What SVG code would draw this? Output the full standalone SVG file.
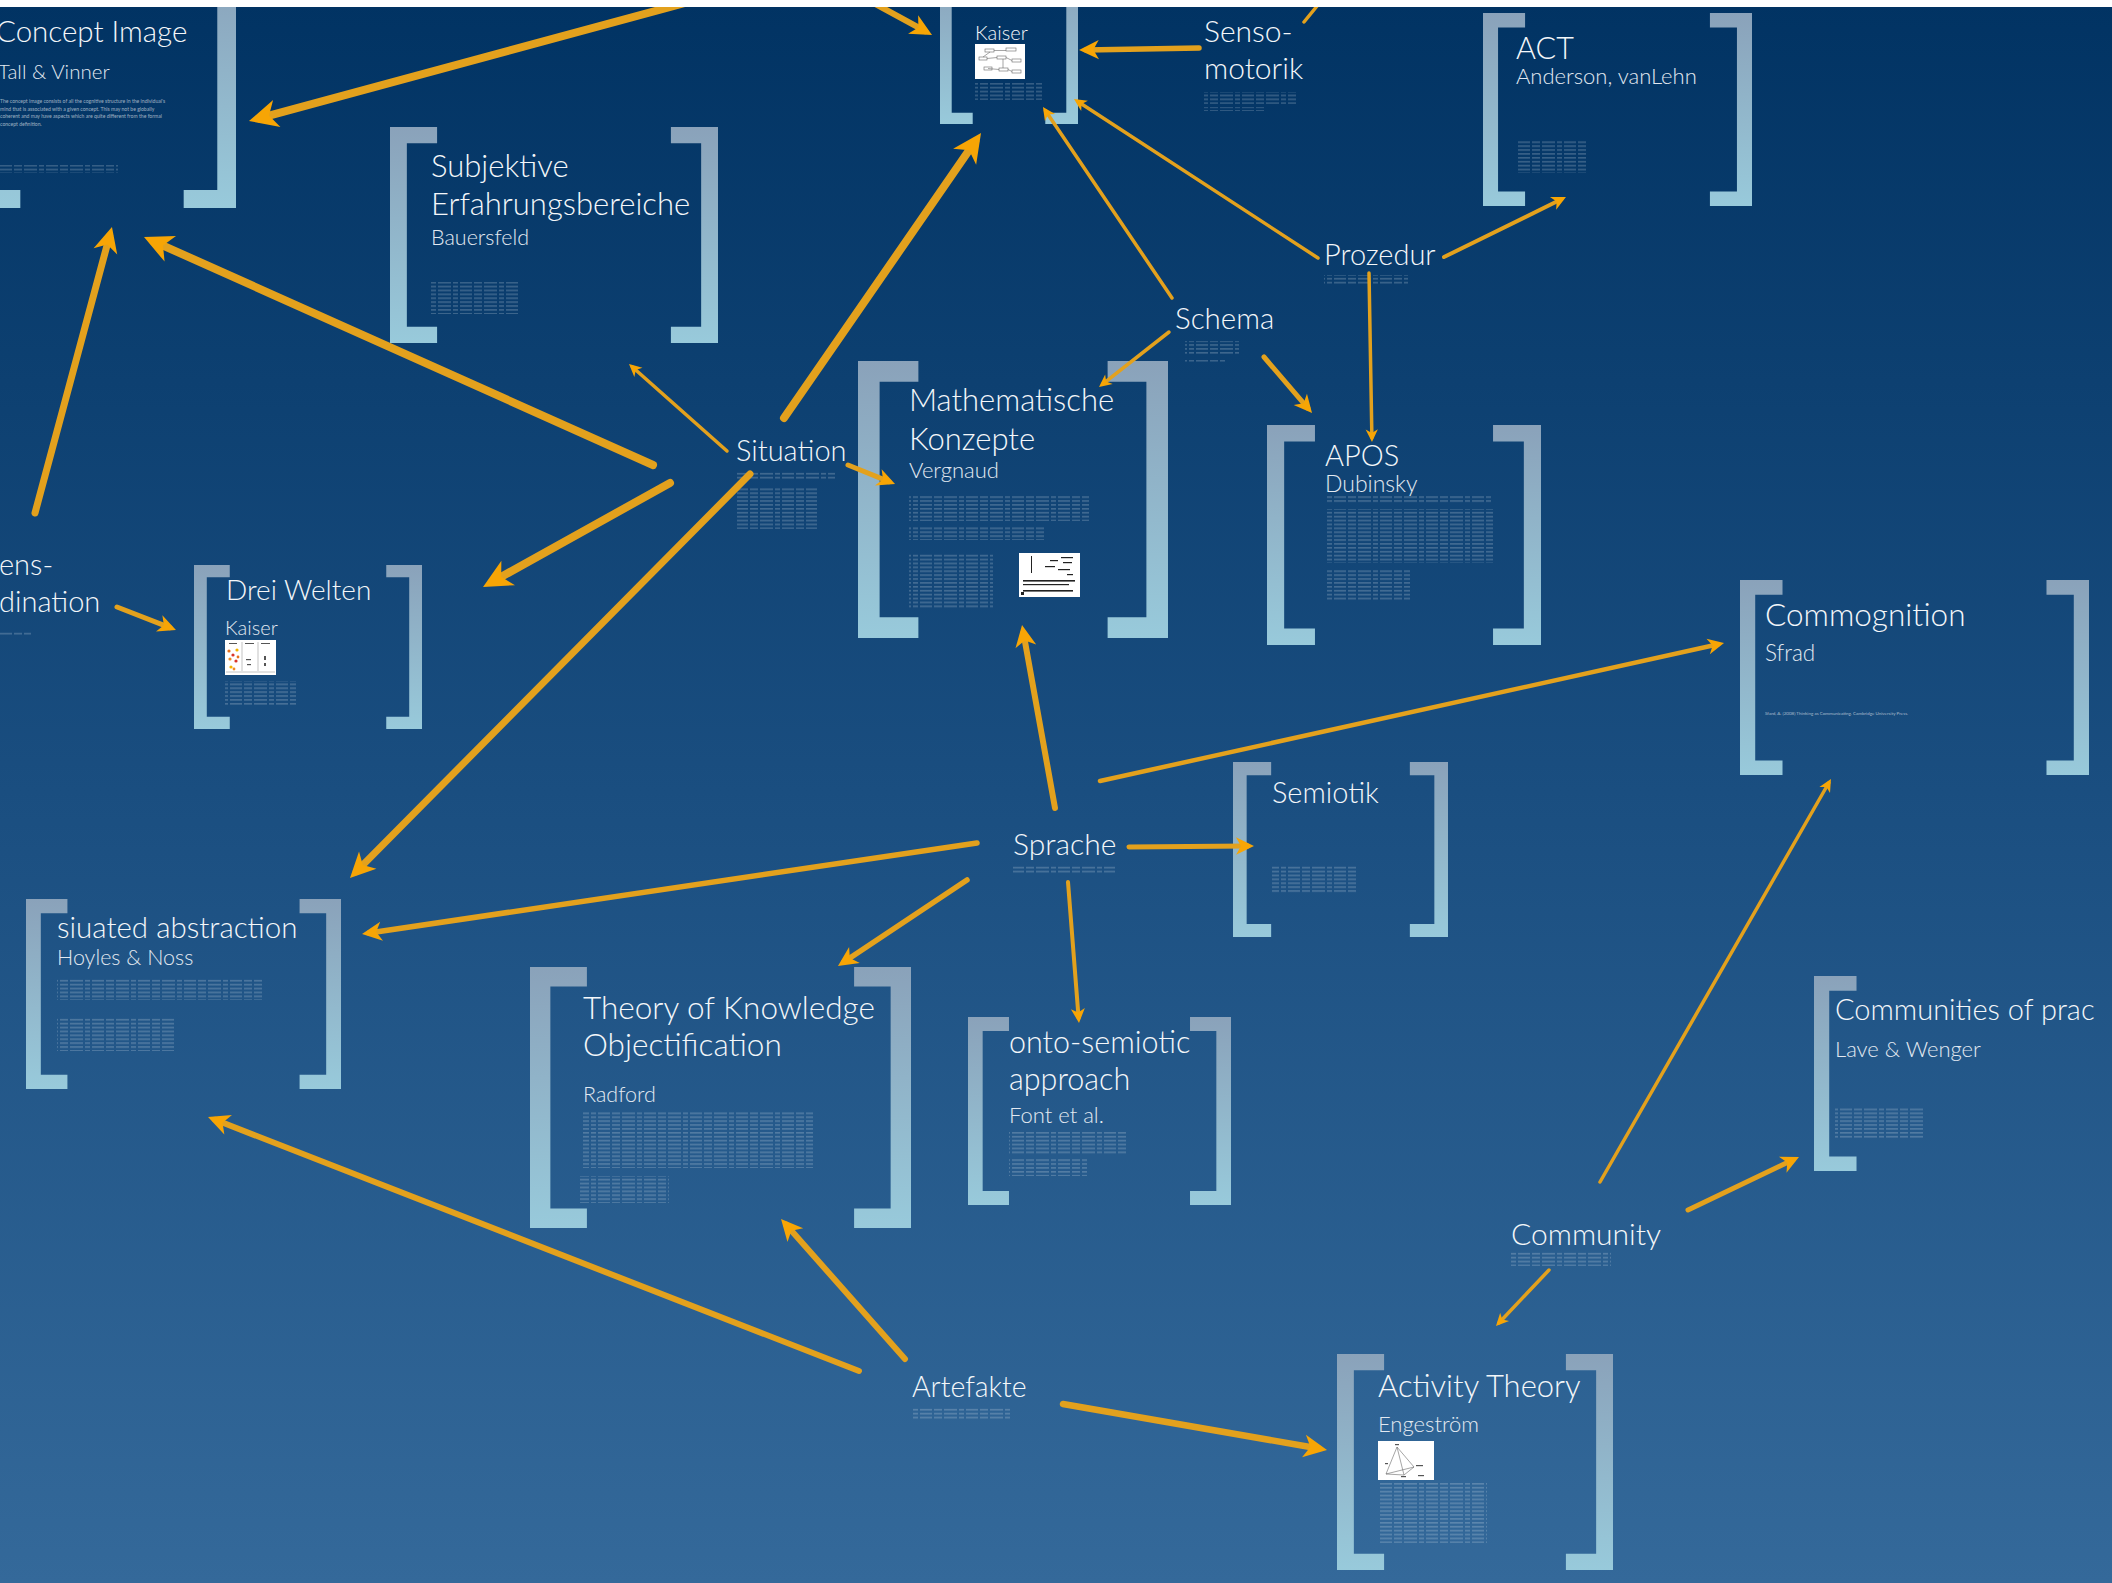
<svg xmlns="http://www.w3.org/2000/svg" xmlns:xlink="http://www.w3.org/1999/xlink" width="2112" height="1583" viewBox="0 0 2112 1583">
  <defs>
    <linearGradient id="sky" x1="0" y1="0" x2="0" y2="1">
      <stop offset="0" stop-color="#013363"/>
      <stop offset="0.5" stop-color="#1a4e80"/>
      <stop offset="1" stop-color="#34699a"/>
    </linearGradient>
    <linearGradient id="brkGrad" x1="0" y1="0" x2="0" y2="1">
      <stop offset="0" stop-color="#8aa2ba"/>
      <stop offset="1" stop-color="#98cadb"/>
    </linearGradient>
    <!-- unit brackets, 100 units tall; placed with translate + scale -->
    <path id="lb" d="M0 0H21.8V7.5H7.8V92.5H21.8V100H0Z"/>
    <path id="rb" d="M0 0H-21.8V7.5H-7.8V92.5H-21.8V100H0Z"/>
    <!-- fine print rendered as faint rows -->
    <pattern id="tl" patternUnits="userSpaceOnUse" width="46" height="3.9">
      <g fill="#ffffff" fill-opacity="0.3">
        <rect x="0" y="1.3" width="12" height="1.1"/>
        <rect x="14" y="1.3" width="8" height="1.1"/>
        <rect x="24" y="1.3" width="13" height="1.1"/>
        <rect x="39" y="1.3" width="5" height="1.1"/>
      </g>
    </pattern>
    <marker id="ah" viewBox="-4 -2 4 4" markerWidth="4" markerHeight="4" refX="-1.3" refY="0" orient="auto" markerUnits="strokeWidth" overflow="visible">
      <path d="M0 0L-3.6 -1.75L-2.6 0L-3.6 1.75Z" fill="#f7a505"/>
    </marker>
    <style>
      .brk { fill: url(#brkGrad); }
      .t { font-family: Lato, "Open Sans", "Liberation Sans", sans-serif; font-weight: 300; fill: #f4f7fa; }
      .s { fill: #e2e9f1; }
      .micro { font-family: Lato, "Liberation Sans", sans-serif; fill: #ffffff; fill-opacity: 0.6; }
      .fine { fill: url(#tl); }
      .con { fill: none; stroke: #e3a11d; stroke-linecap: round; marker-end: url(#ah); }
      .c35 { stroke-width: 3.5; }
      .c4 { stroke-width: 4; }
      .c45 { stroke-width: 4.5; }
      .c5 { stroke-width: 5; }
      .c55 { stroke-width: 5.5; }
      .c6 { stroke-width: 6; }
      .c65 { stroke-width: 6.5; }
      .c7 { stroke-width: 7; }
      .c8 { stroke-width: 8; }
      .thumb { fill: #ffffff; }
      .ink { fill: none; stroke: #6a6a6a; stroke-width: 0.6; }
    </style>
  </defs>

  <rect width="2112" height="1583" fill="url(#sky)"/>

  <!-- Concept Image -->
  <g id="node-concept-image">
    <use href="#lb" class="brk" transform="translate(-32 -32) scale(2.4)"/>
    <use href="#rb" class="brk" transform="translate(236 -32) scale(2.4)"/>
    <text class="t" x="-4" y="42" font-size="29.5">Concept Image</text>
    <text class="t s" x="-2" y="79" font-size="20.5">Tall &amp; Vinner</text>
    <text class="micro" font-size="5.1">
      <tspan x="0" y="103">The concept image consists of all the cognitive structure in the individual's</tspan>
      <tspan x="0" y="110.5">mind that is associated with a given concept. This may not be globally</tspan>
      <tspan x="0" y="118">coherent and may have aspects which are quite different from the formal</tspan>
      <tspan x="0" y="125.5">concept definition.</tspan>
    </text>
    <rect class="fine" x="0" y="165" width="118" height="8"/>
  </g>

  <!-- Kaiser (top) -->
  <g id="node-kaiser-top">
    <use href="#lb" class="brk" transform="translate(940 -26) scale(1.5)"/>
    <use href="#rb" class="brk" transform="translate(1078 -26) scale(1.5)"/>
    <text class="t" x="975" y="40" font-size="20">Kaiser</text>
    <rect class="thumb" x="975" y="44" width="50" height="35"/>
    <g class="ink">
      <rect x="985" y="49" width="9" height="3"/>
      <rect x="1006" y="48" width="10" height="3"/>
      <rect x="979" y="57" width="8" height="3"/>
      <rect x="997" y="56" width="9" height="3"/>
      <rect x="1012" y="59" width="9" height="3"/>
      <rect x="984" y="67" width="8" height="3"/>
      <rect x="999" y="68" width="9" height="3"/>
      <rect x="1012" y="70" width="9" height="3"/>
      <path d="M994 50.5H1006M987 58.5L997 57.5M1006 57.5L1012 60.5M988 68.5L999 69.5M1008 69.5L1012 71.5M990 52L983 57M1003 59L1003 68"/>
    </g>
    <rect class="fine" x="975" y="83" width="67" height="17"/>
  </g>

  <!-- Senso-motorik -->
  <g id="node-sensomotorik">
    <text class="t" x="1204" y="42" font-size="30">Senso-</text>
    <text class="t" x="1204" y="79" font-size="30">motorik</text>
    <rect class="fine" x="1204" y="92" width="92" height="12"/>
    <rect class="fine" x="1204" y="107" width="62" height="4"/>
  </g>

  <!-- ACT -->
  <g id="node-act">
    <use href="#lb" class="brk" transform="translate(1483 13) scale(1.93)"/>
    <use href="#rb" class="brk" transform="translate(1752 13) scale(1.93)"/>
    <text class="t" x="1516" y="59" font-size="30.5">ACT</text>
    <text class="t s" x="1516" y="84" font-size="22">Anderson, vanLehn</text>
    <rect class="fine" x="1517" y="140" width="70" height="33"/>
  </g>

  <!-- Subjektive Erfahrungsbereiche -->
  <g id="node-subjektive">
    <use href="#lb" class="brk" transform="translate(390 127) scale(2.16)"/>
    <use href="#rb" class="brk" transform="translate(718 127) scale(2.16)"/>
    <text class="t" x="431" y="177" font-size="31">Subjektive</text>
    <text class="t" x="431" y="215" font-size="31">Erfahrungsbereiche</text>
    <text class="t s" x="431" y="245" font-size="21.5">Bauersfeld</text>
    <rect class="fine" x="431" y="282" width="87" height="32"/>
  </g>

  <!-- Mathematische Konzepte -->
  <g id="node-mathematische-konzepte">
    <use href="#lb" class="brk" transform="translate(858 361) scale(2.77)"/>
    <use href="#rb" class="brk" transform="translate(1168 361) scale(2.77)"/>
    <text class="t" x="909" y="411" font-size="31">Mathematische</text>
    <text class="t" x="909" y="450" font-size="31">Konzepte</text>
    <text class="t s" x="909" y="478" font-size="22">Vergnaud</text>
    <rect class="fine" x="909" y="495" width="180" height="26"/>
    <rect class="fine" x="909" y="526" width="135" height="14"/>
    <rect class="fine" x="909" y="553" width="84" height="55"/>
    <rect class="thumb" x="1019" y="553" width="61" height="44"/>
    <g fill="#222">
      <rect x="1031" y="556" width="1" height="17"/>
      <rect x="1050" y="560" width="8" height="1.2"/>
      <rect x="1061" y="557" width="12" height="1.2"/>
      <rect x="1063" y="562" width="9" height="1.2"/>
      <rect x="1045" y="566" width="10" height="1.2"/>
      <rect x="1058" y="569" width="12" height="1.2"/>
      <rect x="1067" y="574" width="6" height="1.2"/>
      <rect x="1023" y="580" width="52" height="1.6"/>
      <rect x="1023" y="584" width="46" height="1.2"/>
      <rect x="1023" y="590" width="50" height="1.6"/>
      <rect x="1021" y="592" width="3" height="3"/>
    </g>
  </g>

  <!-- APOS -->
  <g id="node-apos">
    <use href="#lb" class="brk" transform="translate(1267 425) scale(2.2)"/>
    <use href="#rb" class="brk" transform="translate(1541 425) scale(2.2)"/>
    <text class="t" x="1325" y="466" font-size="29">APOS</text>
    <text class="t s" x="1325" y="492" font-size="23">Dubinsky</text>
    <rect class="fine" x="1325" y="496" width="166" height="8"/>
    <rect class="fine" x="1325" y="509" width="168" height="54"/>
    <rect class="fine" x="1325" y="570" width="85" height="30"/>
  </g>

  <!-- Prozedur -->
  <g id="node-prozedur">
    <text class="t" x="1324" y="265" font-size="29">Prozedur</text>
    <rect class="fine" x="1324" y="275" width="84" height="10"/>
  </g>

  <!-- Schema -->
  <g id="node-schema">
    <text class="t" x="1175" y="329" font-size="29.5">Schema</text>
    <rect class="fine" x="1185" y="341" width="54" height="13"/>
    <rect class="fine" x="1185" y="360" width="40" height="3"/>
  </g>

  <!-- Situation -->
  <g id="node-situation">
    <text class="t" x="736" y="461" font-size="29">Situation</text>
    <rect class="fine" x="737" y="471" width="98" height="8"/>
    <rect class="fine" x="737" y="487" width="80" height="42"/>
  </g>

  <!-- Drei Welten -->
  <g id="node-drei-welten">
    <use href="#lb" class="brk" transform="translate(194 565) scale(1.64)"/>
    <use href="#rb" class="brk" transform="translate(422 565) scale(1.64)"/>
    <text class="t" x="226" y="600" font-size="28">Drei Welten</text>
    <text class="t s" x="225" y="635" font-size="20">Kaiser</text>
    <rect class="thumb" x="225" y="640" width="51" height="35"/>
    <g stroke="#9a9a9a" stroke-width="0.6">
      <path d="M242 642V671M258 642V671M226 672H275"/>
    </g>
    <g fill="#555">
      <rect x="229" y="643" width="8" height="1"/>
      <rect x="245" y="643" width="9" height="1"/>
      <rect x="261" y="643" width="9" height="1"/>
      <rect x="246" y="659" width="5" height="1.2"/>
      <rect x="247" y="664" width="4" height="1.2"/>
      <rect x="264" y="656" width="2" height="4"/>
      <rect x="264" y="663" width="2" height="3"/>
    </g>
    <g>
      <circle cx="229" cy="651" r="1.6" fill="#e8701a"/>
      <circle cx="233" cy="655" r="1.6" fill="#d9352a"/>
      <circle cx="237" cy="650" r="1.6" fill="#f4b400"/>
      <circle cx="230" cy="659" r="1.6" fill="#f08a24"/>
      <circle cx="236" cy="661" r="1.6" fill="#d9352a"/>
      <circle cx="231" cy="667" r="1.6" fill="#f4b400"/>
      <circle cx="238" cy="657" r="1.4" fill="#e8701a"/>
      <circle cx="234" cy="669" r="1.4" fill="#f08a24"/>
    </g>
    <rect class="fine" x="225" y="681" width="71" height="25"/>
  </g>

  <!-- partially visible label at left edge -->
  <g id="node-koordination">
    <text class="t" x="-1" y="575" font-size="29">ens-</text>
    <text class="t" x="-1" y="612" font-size="29">dination</text>
    <rect class="fine" x="0" y="631" width="31" height="4"/>
  </g>

  <!-- Commognition -->
  <g id="node-commognition">
    <use href="#lb" class="brk" transform="translate(1740 580) scale(1.95)"/>
    <use href="#rb" class="brk" transform="translate(2089 580) scale(1.95)"/>
    <text class="t" x="1765" y="626" font-size="31.5">Commognition</text>
    <text class="t s" x="1765" y="661" font-size="22.5">Sfrad</text>
    <text class="micro" x="1765" y="715" font-size="4.5">Sfard, A. (2008) Thinking as Communicating. Cambridge University Press.</text>
  </g>

  <!-- Semiotik -->
  <g id="node-semiotik">
    <use href="#lb" class="brk" transform="translate(1233 762) scale(1.75)"/>
    <use href="#rb" class="brk" transform="translate(1448 762) scale(1.75)"/>
    <text class="t" x="1272" y="803" font-size="29">Semiotik</text>
    <rect class="fine" x="1272" y="866" width="85" height="27"/>
  </g>

  <!-- situated abstraction -->
  <g id="node-situated-abstraction">
    <use href="#lb" class="brk" transform="translate(26 899) scale(1.9)"/>
    <use href="#rb" class="brk" transform="translate(341 899) scale(1.9)"/>
    <text class="t" x="57" y="938" font-size="29.5">siuated abstraction</text>
    <text class="t s" x="57" y="965" font-size="21.5">Hoyles &amp; Noss</text>
    <rect class="fine" x="57" y="979" width="205" height="21"/>
    <rect class="fine" x="57" y="1017" width="117" height="34"/>
  </g>

  <!-- Theory of Knowledge Objectification -->
  <g id="node-knowledge-objectification">
    <use href="#lb" class="brk" transform="translate(530 967) scale(2.61)"/>
    <use href="#rb" class="brk" transform="translate(911 967) scale(2.61)"/>
    <text class="t" x="583" y="1019" font-size="31.5">Theory of Knowledge</text>
    <text class="t" x="583" y="1056" font-size="31.5">Objectification</text>
    <text class="t s" x="583" y="1102" font-size="21.5">Radford</text>
    <rect class="fine" x="583" y="1111" width="230" height="57"/>
    <rect class="fine" x="580" y="1176" width="89" height="27"/>
  </g>

  <!-- onto-semiotic approach -->
  <g id="node-onto-semiotic">
    <use href="#lb" class="brk" transform="translate(968 1017) scale(1.88)"/>
    <use href="#rb" class="brk" transform="translate(1231 1017) scale(1.88)"/>
    <text class="t" x="1009" y="1053" font-size="30.5">onto-semiotic</text>
    <text class="t" x="1009" y="1090" font-size="30.5">approach</text>
    <text class="t s" x="1009" y="1123" font-size="22">Font et al.</text>
    <rect class="fine" x="1009" y="1132" width="118" height="23"/>
    <rect class="fine" x="1009" y="1159" width="78" height="17"/>
  </g>

  <!-- Sprache -->
  <g id="node-sprache">
    <text class="t" x="1013" y="855" font-size="30">Sprache</text>
    <rect class="fine" x="1013" y="865" width="102" height="9"/>
  </g>

  <!-- Communities of practice (runs past the right edge) -->
  <g id="node-communities-of-practice">
    <use href="#lb" class="brk" transform="translate(1814 976) scale(1.95)"/>
    <text class="t" x="1835" y="1020" font-size="29">Communities of prac</text>
    <text class="t s" x="1835" y="1057" font-size="22">Lave &amp; Wenger</text>
    <rect class="fine" x="1835" y="1108" width="90" height="30"/>
  </g>

  <!-- Community -->
  <g id="node-community">
    <text class="t" x="1511" y="1245" font-size="30">Community</text>
    <rect class="fine" x="1511" y="1252" width="100" height="14"/>
  </g>

  <!-- Activity Theory -->
  <g id="node-activity-theory">
    <use href="#lb" class="brk" transform="translate(1337 1354) scale(2.16)"/>
    <use href="#rb" class="brk" transform="translate(1613 1354) scale(2.16)"/>
    <text class="t" x="1378" y="1397" font-size="31">Activity Theory</text>
    <text class="t s" x="1378" y="1432" font-size="22">Engeström</text>
    <rect class="thumb" x="1378" y="1441" width="56" height="39"/>
    <g class="ink">
      <path d="M1397 1447L1386 1474L1414 1467Z"/>
      <path d="M1397 1447L1404 1475M1386 1474L1404 1475L1414 1467"/>
    </g>
    <g fill="#555">
      <rect x="1395" y="1444" width="4" height="1.2"/>
      <rect x="1416" y="1465" width="7" height="1.2"/>
      <rect x="1418" y="1475" width="6" height="1.2"/>
      <rect x="1401" y="1476" width="5" height="1.2"/>
      <rect x="1385" y="1463" width="3" height="1.2"/>
    </g>
    <rect class="fine" x="1378" y="1483" width="109" height="60"/>
  </g>

  <!-- Artefakte -->
  <g id="node-artefakte">
    <text class="t" x="912" y="1397" font-size="28.5">Artefakte</text>
    <rect class="fine" x="912" y="1407" width="98" height="13"/>
  </g>

  <!-- connectors -->
  <g id="connectors">
    <path class="con c8" d="M685 3L259 118.3"/>
    <path class="con c6" d="M870 1L925.2 31.2"/>
    <path class="con c55" d="M1199 48L1086.2 49.9"/>
    <path class="con c35" d="M1318 258L1077.8 101.5"/>
    <path class="con c35" d="M1172 298L1045.5 110.8"/>
    <path class="con c8" d="M784 418L975.1 141.6"/>
    <path class="con c4" d="M1444 257L1561.3 199.3"/>
    <path class="con c35" d="M1369 273L1371.9 437.5"/>
    <path class="con c35" d="M1169 332L1102.6 384.2"/>
    <path class="con c5" d="M1264 357L1307.8 408.1"/>
    <path class="con c35" d="M727 451L632.4 367"/>
    <path class="con c8" d="M653 465L153.5 241.3"/>
    <path class="con c8" d="M670 483L492.1 581.9"/>
    <path class="con c5" d="M848 465L889 481.6"/>
    <path class="con c7" d="M750 474L356.4 871.5"/>
    <path class="con c5" d="M117 607L169.9 627.6"/>
    <path class="con c7" d="M35 513L109.6 235.8"/>
    <path class="con c6" d="M1055 808L1023.4 632.7"/>
    <path class="con c45" d="M1100 781L1718.3 644.3"/>
    <path class="con c5" d="M1129 847L1247.5 846"/>
    <path class="con c55" d="M977 843L369.1 933"/>
    <path class="con c55" d="M967 880L843.9 962"/>
    <path class="con c4" d="M1068 882L1078.6 1017.8"/>
    <path class="con c35" d="M1600 1182L1828.7 783"/>
    <path class="con c5" d="M1688 1210L1793.1 1159.8"/>
    <path class="con c35" d="M1549 1270L1499.1 1322.7"/>
    <path class="con c6" d="M859 1371L215.3 1119.8"/>
    <path class="con c6" d="M905 1359L786.2 1224.8"/>
    <path class="con c65" d="M1063 1404L1318.7 1448.5"/>
    <path class="c35" d="M1304 22L1322 0" fill="none" stroke="#e3a11d" stroke-linecap="round"/>
  </g>

  <!-- white band along the top edge -->
  <rect x="0" y="0" width="2112" height="7" fill="#ffffff"/>
</svg>
